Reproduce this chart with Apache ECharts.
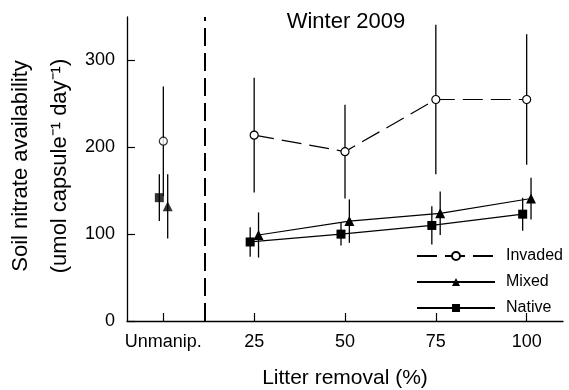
<!DOCTYPE html>
<html>
<head>
<meta charset="utf-8">
<title>Winter 2009</title>
<script src="https://cdn.jsdelivr.net/npm/echarts@6/dist/echarts.min.js"></script>
<style>
  html, body { margin: 0; padding: 0; background: #fff; }
  #chart { width: 569px; height: 390px; }
</style>
</head>
<body>
<div id="chart"></div>
<script>
// litter removal levels (0 = unmanipulated)
const removalLevels = [0, 25, 50, 75, 100]
const tickLabels = ['Unmanip.', '25', '50', '75', '100']
const yTicks = [0, 100, 200, 300]

// means and error bars
const invadedMean = [207, 214, 195, 255, 255]
const invadedErr = [63, 66, 54, 86, 75]
const mixedMean = [132, 99, 115, 124, 141]
const mixedErr = [37, 26, 25, 25, 24]
const nativeMean = [142, 91, 100, 110, 123]
const nativeErr = [27, 17, 13, 22, 19]

const dividerAt = 11.5
const FONT = '"Liberation Sans", Arial, Helvetica, sans-serif'

const chart = echarts.init(document.getElementById('chart'))

// small horizontal jitter so the markers don't sit on top of each other
const offsets = { Invaded: 0, Mixed: 1.2, Native: -1.1 }

const points = (means, off) => means.map((m, i) => [removalLevels[i] + off, m])

const barData = (means, errs, off) =>
  means.map((m, i) => [removalLevels[i] + off, m - errs[i], m + errs[i]])

const errorBars = (name, means, errs) => ({
  name: name + ' err',
  type: 'custom',
  z: 1,
  silent: true,
  renderItem: (params, api) => {
    const lo = api.coord([api.value(0), api.value(1)])
    const hi = api.coord([api.value(0), api.value(2)])
    return {
      type: 'line',
      shape: { x1: lo[0], y1: lo[1], x2: hi[0], y2: hi[1] },
      style: { stroke: '#000', lineWidth: 1.3 }
    }
  },
  encode: { x: 0, y: [1, 2] },
  data: barData(means, errs, offsets[name])
})

const styles = {
  Invaded: {
    symbol: 'circle', symbolSize: 8,
    lineStyle: { color: '#000', width: 1.2, type: [20, 8] },
    itemStyle: { color: '#fff', borderColor: '#000', borderWidth: 1.2 }
  },
  Mixed: {
    symbol: 'triangle', symbolSize: 10,
    lineStyle: { color: '#000', width: 1.2 },
    itemStyle: { color: '#000' }
  },
  Native: {
    symbol: 'rect', symbolSize: 9,
    lineStyle: { color: '#000', width: 1.2 },
    itemStyle: { color: '#000' }
  }
}

// treatments 25..100 joined by a line, the unmanipulated point stands alone
const treatmentLine = (name, means) => Object.assign({
  name: name,
  type: 'line',
  z: 3,
  data: points(means, offsets[name]).slice(1)
}, styles[name])

const unmanipPoint = (name, means) => Object.assign({
  name: name + ' unmanip',
  type: 'scatter',
  z: 3,
  data: points(means, offsets[name]).slice(0, 1)
}, styles[name])

const option = {
  animation: false,
  backgroundColor: '#fff',
  textStyle: { fontFamily: FONT },
  grid: { left: 127, right: 6, top: 17, bottom: 69 },
  xAxis: {
    type: 'value',
    min: -10,
    max: 110,
    splitLine: { show: false },
    axisLine: { onZero: false, lineStyle: { color: '#000', width: 1.3 } },
    axisTick: {
      inside: true,
      length: 8,
      customValues: removalLevels,
      lineStyle: { color: '#000', width: 1.2 }
    },
    axisLabel: {
      customValues: removalLevels,
      margin: 12,
      fontSize: 18,
      color: '#000',
      fontFamily: FONT,
      formatter: (v) => tickLabels[removalLevels.indexOf(v)]
    }
  },
  yAxis: {
    type: 'value',
    min: 0,
    max: 350,
    splitLine: { show: false },
    axisLine: { show: true, onZero: false, lineStyle: { color: '#000', width: 1.3 } },
    axisTick: {
      show: true,
      inside: true,
      length: 8,
      customValues: yTicks,
      lineStyle: { color: '#000', width: 1.2 }
    },
    axisLabel: {
      customValues: yTicks,
      margin: 12,
      fontSize: 18,
      color: '#000',
      fontFamily: FONT
    }
  },
  legend: {
    orient: 'vertical',
    left: 416,
    top: 248,
    padding: 0,
    itemWidth: 78,
    itemHeight: 10,
    itemGap: 10,
    data: ['Invaded', 'Mixed', 'Native'],
    textStyle: { fontSize: 16, lineHeight: 14, color: '#000', fontFamily: FONT, padding: [0, 0, 0, 6] }
  },
  graphic: [
    {
      type: 'text',
      style: { text: 'Winter 2009', x: 346, y: 22, align: 'center', verticalAlign: 'middle', font: '22px ' + FONT, fill: '#000' }
    },
    {
      type: 'text',
      style: { text: 'Litter removal (%)', x: 345, y: 378, align: 'center', verticalAlign: 'middle', font: '21px ' + FONT, fill: '#000' }
    },
    {
      type: 'text', x: 21, y: 166, rotation: Math.PI / 2,
      style: { text: 'Soil nitrate availability', x: 0, y: 0, align: 'center', verticalAlign: 'middle', font: '22px ' + FONT, fill: '#000' }
    },
    {
      type: 'text', x: 60, y: 166, rotation: Math.PI / 2,
      style: { text: '(umol capsule\u207B\u00B9 day\u207B\u00B9)', x: 0, y: 0, align: 'center', verticalAlign: 'middle', font: '22px ' + FONT, fill: '#000' }
    }
  ],
  series: [
    errorBars('Invaded', invadedMean, invadedErr),
    errorBars('Mixed', mixedMean, mixedErr),
    errorBars('Native', nativeMean, nativeErr),
    Object.assign(treatmentLine('Invaded', invadedMean), {
      markLine: {
        silent: true,
        symbol: 'none',
        label: { show: false },
        lineStyle: { color: '#000', width: 2, type: [18, 7] },
        data: [{ xAxis: dividerAt }]
      }
    }),
    treatmentLine('Mixed', mixedMean),
    treatmentLine('Native', nativeMean),
    unmanipPoint('Invaded', invadedMean),
    unmanipPoint('Mixed', mixedMean),
    unmanipPoint('Native', nativeMean)
  ]
}

chart.setOption(option)
</script>
</body>
</html>
